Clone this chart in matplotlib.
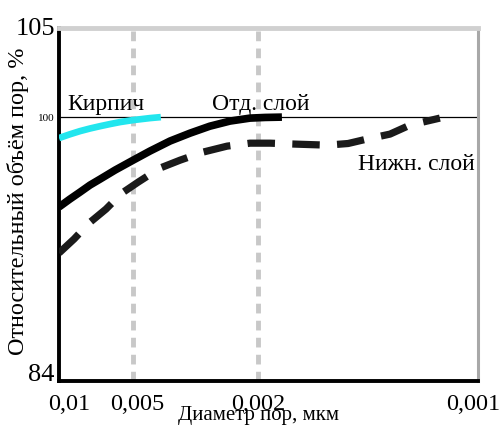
import matplotlib
matplotlib.use("Agg")
import matplotlib.pyplot as plt
from matplotlib.transforms import ScaledTranslation

# Axis positions (normalized along the drawn x-axis) and their labels
tick_pos = [0.0, 0.177, 0.475, 1.0]
tick_labels = ["0,01", "0,005", "0,002", "0,001"]
grid_pos = [0.177, 0.475]

# Кирпич (cyan)
brick_x = [0.0, 0.025, 0.050, 0.074, 0.098, 0.122, 0.146, 0.177, 0.217, 0.243]
brick_y = [98.73, 98.95, 99.15, 99.31, 99.45, 99.58, 99.70, 99.82, 99.94, 100.0]

# Отд. слой (solid black)
top_x = [0.0, 0.026, 0.050, 0.074, 0.098, 0.134, 0.177, 0.217, 0.265,
         0.313, 0.360, 0.408, 0.456, 0.492, 0.532]
top_y = [94.55, 95.03, 95.45, 95.88, 96.24, 96.79, 97.39, 97.94, 98.55,
         99.03, 99.45, 99.76, 99.94, 99.98, 100.0]

# Нижн. слой (dashed black)
low_x = [0.0, 0.036, 0.072, 0.112, 0.150, 0.189, 0.241, 0.289, 0.344,
         0.401, 0.456, 0.504, 0.568, 0.640, 0.690, 0.735, 0.790, 0.838, 0.909]
low_y = [91.76, 92.61, 93.58, 94.42, 95.39, 96.06, 96.91, 97.39, 97.88,
         98.24, 98.42, 98.42, 98.36, 98.30, 98.40, 98.67, 98.97, 99.52, 99.94]

y_ticks = [84, 100, 105]
y_tick_labels = ["84", "100", "105"]

plt.rcParams['font.family'] = ['Liberation Serif', 'DejaVu Serif']

fig = plt.figure(figsize=(5.03, 4.25), dpi=100)
ax = fig.add_axes([0.1173, 0.1035, 0.8330, 0.8305])
ax.set_xlim(0, 1)
ax.set_ylim(84, 105.4)

for gx in grid_pos:
    ax.axvline(gx, color='#c8c8c8', lw=3.5, ls=(0, (2.0, 1.5)), zorder=1)
ax.axhline(100, color='black', lw=0.9, zorder=2)

ax.plot(brick_x, brick_y, color='#22e6ee', lw=4.8, solid_capstyle='butt', zorder=3)
ax.plot(top_x, top_y, color='black', lw=5.5, solid_capstyle='butt', zorder=3)
ax.plot(low_x, low_y, color='#1a1a1a', lw=5.2, ls=(0, (3.8, 2.4)),
        dash_capstyle='butt', zorder=3)

ax.text(0.02, 100.45, "Кирпич", fontsize=17, ha='left', va='baseline')
ax.text(0.365, 100.45, "Отд. слой", fontsize=17, ha='left', va='baseline')
ax.text(0.714, 96.8, "Нижн. слой", fontsize=17, ha='left', va='baseline')

for side in ['left', 'bottom']:
    ax.spines[side].set_linewidth(2.8)
    ax.spines[side].set_color('black')
ax.spines['top'].set_color('#d0d0d0')
ax.spines['top'].set_linewidth(3.5)
ax.spines['right'].set_color('#a8a8a8')
ax.spines['right'].set_linewidth(2.2)

ax.set_xticks(tick_pos)
ax.set_xticklabels(tick_labels, fontsize=17.5)
ax.tick_params(axis='x', length=0, pad=9)
offsets = [10, 4, 0, -5]
for lbl, dx in zip(ax.get_xticklabels(), offsets):
    lbl.set_transform(lbl.get_transform() + ScaledTranslation(dx / 100, 0, fig.dpi_scale_trans))

ax.set_yticks(y_ticks)
ax.set_yticklabels(y_tick_labels)
ax.tick_params(axis='y', length=0, pad=3)
ylabs = ax.get_yticklabels()
ylabs[0].set_fontsize(19); ylabs[0].set_va('baseline')
ylabs[1].set_fontsize(8)
ylabs[2].set_fontsize(19); ylabs[2].set_va('baseline')

ax.set_xlabel("Диаметр пор, мкм", fontsize=15)
ax.xaxis.set_label_coords(0.475, -0.07)
ax.set_ylabel("Относительный объём пор, %", fontsize=17.5, va='center')
ax.yaxis.set_label_coords(-0.098, 0.51)

fig.savefig("out.png", dpi=100)
